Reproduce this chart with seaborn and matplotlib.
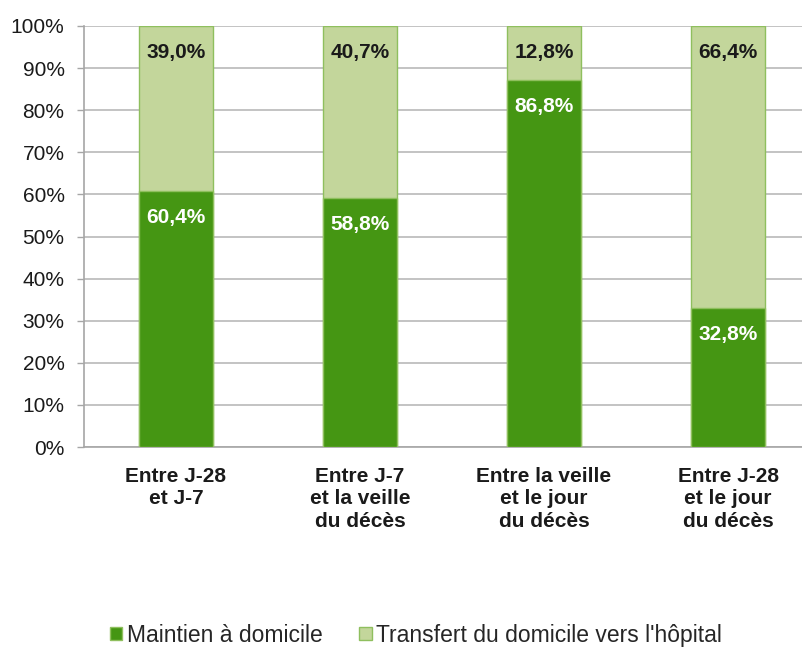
import pandas as pd
import seaborn as sns
import matplotlib.pyplot as plt
from matplotlib.patches import Patch

# values
categories = ["Entre J-28\net J-7",
              "Entre J-7\net la veille\ndu décès",
              "Entre la veille\net le jour\ndu décès",
              "Entre J-28\net le jour\ndu décès"]
maintien = [60.4, 58.8, 86.8, 32.8]
transfert = [39.0, 40.7, 12.8, 66.4]
series_names = ["Maintien à domicile", "Transfert du domicile vers l'hôpital"]

dark = "#459613"
light = "#C3D69B"
edge = "#8FBF5E"

df = pd.DataFrame({"cat": categories, "maintien": maintien, "transfert": transfert})
tot = df["maintien"] + df["transfert"]
# bars are drawn as a 100% stack
df["share_m"] = df["maintien"] / tot * 100
df["share_t"] = df["transfert"] / tot * 100
df["stack"] = df["share_m"] + df["share_t"]

sns.set_theme(style="white")
plt.rcParams["font.family"] = ["Liberation Sans", "DejaVu Sans"]

fig = plt.figure(figsize=(8.03, 6.48), dpi=100)
ax = fig.add_axes([0.1046, 0.31, 0.9166, 0.65])

sns.barplot(data=df, x="cat", y="stack", color=light, width=0.40,
            edgecolor=edge, linewidth=1, saturation=1, ax=ax, zorder=2)
sns.barplot(data=df, x="cat", y="share_m", color=dark, width=0.40,
            edgecolor=edge, linewidth=1, saturation=1, ax=ax, zorder=3)

for i, row in df.iterrows():
    ax.annotate(f"{row['maintien']:.1f}%".replace(".", ","), (i, row["share_m"]),
                xytext=(0, -12), textcoords="offset points", ha="center", va="top",
                color="white", fontsize=15, fontweight="bold", zorder=5)
    ax.annotate(f"{row['transfert']:.1f}%".replace(".", ","), (i, row["stack"]),
                xytext=(0, -12), textcoords="offset points", ha="center", va="top",
                color="#1a1a1a", fontsize=15, fontweight="bold", zorder=5)

ax.set_xlim(-0.5, 3.5)
ax.set_ylim(0, 100)
ax.set_yticks(range(0, 101, 10))
ax.set_yticklabels([f"{v}%" for v in range(0, 101, 10)], fontsize=15, color="#1a1a1a")
ax.yaxis.grid(True, color="#BEBEBE", linewidth=1.3, zorder=0)
ax.set_axisbelow(True)
ax.set_xlabel("")
ax.set_ylabel("")

ax.set_xticks(range(4))
ax.set_xticklabels(categories, fontsize=15, fontweight="bold", color="#1a1a1a",
                   linespacing=1.25)
ax.set_xticks([-0.5, 0.5, 1.5, 2.5, 3.5], minor=True)
ax.tick_params(axis="x", which="major", length=0, pad=14)
ax.tick_params(axis="x", which="minor", length=6, width=1, color="#A6A6A6", direction="out")
ax.tick_params(axis="y", length=5, width=1, color="#A6A6A6", direction="out", pad=9, left=True)

for s in ["top", "right"]:
    ax.spines[s].set_visible(False)
for s in ["left", "bottom"]:
    ax.spines[s].set_color("#A6A6A6")
    ax.spines[s].set_linewidth(1.2)

handles = [Patch(facecolor=dark, edgecolor=edge), Patch(facecolor=light, edgecolor=edge)]
fig.legend(handles, series_names, loc="center", bbox_to_anchor=(0.518, 0.02),
           ncol=2, frameon=False, fontsize=16.5, handlelength=0.55, handleheight=0.55,
           handletextpad=0.2, columnspacing=1.6)

plt.savefig("out.png", dpi=100)
